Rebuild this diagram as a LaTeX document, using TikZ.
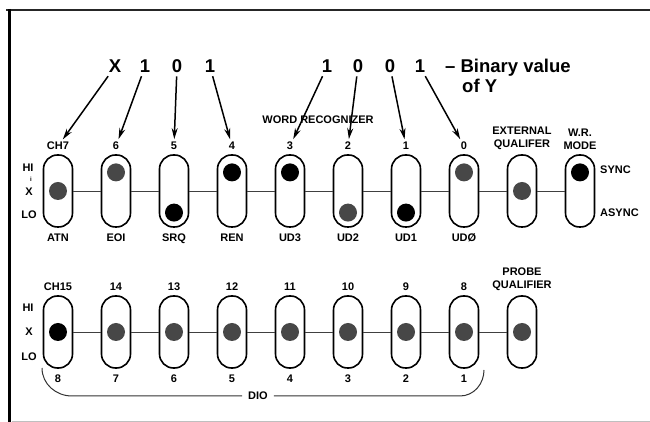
\documentclass[tikz,border=0pt]{standalone}
\usepackage{fontspec}
\setmainfont{Liberation Sans}
\usetikzlibrary{positioning, arrows.meta}
\tikzset{
  switchBox/.style={rectangle, rounded corners=14pt, minimum width=29pt, minimum height=72pt, draw=black, line width=1.6pt, inner sep=0pt, on grid},
  dotBlack/.style={circle, fill=black, minimum size=18pt, inner sep=0pt},
  dotGray/.style={circle, fill=black!72, minimum size=18pt, inner sep=0pt},
  swLabel/.style={font=\bfseries\fontsize{11}{13}\selectfont, inner sep=1pt, align=center},
  bitText/.style={font=\bfseries\fontsize{18.5}{20}\selectfont, inner sep=3pt, anchor=base},
  linkLine/.style={line width=0.9pt, black!75},
  bitArr/.style={line width=1.5pt, -{Stealth[length=11pt,width=6pt]}, shorten >=2pt},
  braceLine/.style={line width=1pt, black!80},
}
\begin{document}
\begin{tikzpicture}[x=1pt, y=1pt, node distance=58pt]
\useasboundingbox (0,0) rectangle (650,422);
% frame of the panel
\draw [line width=2pt, black!85] (6,412) -- (650,412);
\draw [line width=3pt] (9,413) -- (9,0);
\draw [line width=0.8pt, black!25] (12,1) -- (650,1);

% upper row of switches
\node (sw1) [switchBox] at (58,231) {};
\node (sw2) [switchBox, right=of sw1] {};
\node (sw3) [switchBox, right=of sw2] {};
\node (sw4) [switchBox, right=of sw3] {};
\node (sw5) [switchBox, right=of sw4] {};
\node (sw6) [switchBox, right=of sw5] {};
\node (sw7) [switchBox, right=of sw6] {};
\node (sw8) [switchBox, right=of sw7] {};
\node (sw9) [switchBox, right=of sw8] {};
\node (sw10) [switchBox, right=of sw9] {};
\draw [linkLine] (sw1) -- (sw2) -- (sw3) -- (sw4) -- (sw5) -- (sw6) -- (sw7) -- (sw8) -- (sw9) -- (sw10);

% knob positions
\node (d1) [dotGray] at (sw1) {};
\node (d2) [dotGray, below=9pt of sw2.north] {};
\node (d3) [dotBlack, above=6pt of sw3.south] {};
\node (d4) [dotBlack, below=9pt of sw4.north] {};
\node (d5) [dotBlack, below=9pt of sw5.north] {};
\node (d6) [dotGray, above=6pt of sw6.south] {};
\node (d7) [dotBlack, above=6pt of sw7.south] {};
\node (d8) [dotGray, below=9pt of sw8.north] {};
\node (d9) [dotGray] at (sw9) {};
\node (d10) [dotBlack, below=9pt of sw10.north] {};

\node (t1) [swLabel, above=3pt of sw1] {CH7};
\node (t2) [swLabel, above=3pt of sw2] {6};
\node (t3) [swLabel, above=3pt of sw3] {5};
\node (t4) [swLabel, above=3pt of sw4] {4};
\node (t5) [swLabel, above=3pt of sw5] {3};
\node (t6) [swLabel, above=3pt of sw6] {2};
\node (t7) [swLabel, above=3pt of sw7] {1};
\node (t8) [swLabel, above=3pt of sw8] {0};
\node (t9) [swLabel, above=3pt of sw9] {EXTERNAL\\QUALIFER};
\node (t10) [swLabel, above=3pt of sw10] {W.R.\\MODE};
\node (u1) [swLabel, below=5pt of sw1] {ATN};
\node (u2) [swLabel, below=5pt of sw2] {EOI};
\node (u3) [swLabel, below=5pt of sw3] {SRQ};
\node (u4) [swLabel, below=5pt of sw4] {REN};
\node (u5) [swLabel, below=5pt of sw5] {UD3};
\node (u6) [swLabel, below=5pt of sw6] {UD2};
\node (u7) [swLabel, below=5pt of sw7] {UD1};
\node (u8) [swLabel, below=5pt of sw8] {UDØ};
\node (wrec) [swLabel] at (318,302) {WORD RECOGNIZER};
\node (sync) [swLabel, anchor=west] at (599,252) {SYNC};
\node (async) [swLabel, anchor=west] at (599,209) {ASYNC};
\node (hiA) [swLabel] at (28,254) {HI};
\node (tickA) [swLabel, font=\bfseries\fontsize{6}{7}\selectfont] at (31,243) {i};
\node (xA) [swLabel] at (29,230) {X};
\node (loA) [swLabel] at (29,207) {LO};

% binary value of Y
\node (bX) [bitText] at (115,349) {X};
\node (b6) [bitText] at (145,349) {1};
\node (b5) [bitText] at (177,349) {0};
\node (b4) [bitText] at (210,349) {1};
\node (b3) [bitText] at (327,349) {1};
\node (b2) [bitText] at (358,349) {0};
\node (b1) [bitText] at (390,349) {0};
\node (b0) [bitText] at (420,349) {1};
\node (binVal) [bitText, anchor=base west] at (442,349) {– Binary value};
\node (ofY) [bitText, anchor=base west] at (459,329) {of Y};
\draw [bitArr] (bX) -- (t1);
\draw [bitArr] (b6) -- (t2);
\draw [bitArr] (b5) -- (t3);
\draw [bitArr] (b4) -- (t4);
\draw [bitArr] (b3) -- (t5);
\draw [bitArr] (b2) -- (t6);
\draw [bitArr] (b1) -- (t7);
\draw [bitArr] (b0) -- (t8);

% lower row of switches
\node (pr1) [switchBox] at (58,90) {};
\node (pr2) [switchBox, right=of pr1] {};
\node (pr3) [switchBox, right=of pr2] {};
\node (pr4) [switchBox, right=of pr3] {};
\node (pr5) [switchBox, right=of pr4] {};
\node (pr6) [switchBox, right=of pr5] {};
\node (pr7) [switchBox, right=of pr6] {};
\node (pr8) [switchBox, right=of pr7] {};
\node (pr9) [switchBox, right=of pr8] {};
\draw [linkLine] (pr1) -- (pr2) -- (pr3) -- (pr4) -- (pr5) -- (pr6) -- (pr7) -- (pr8) -- (pr9);
\node (pd1) [dotBlack] at (pr1) {};
\node (pd2) [dotGray] at (pr2) {};
\node (pd3) [dotGray] at (pr3) {};
\node (pd4) [dotGray] at (pr4) {};
\node (pd5) [dotGray] at (pr5) {};
\node (pd6) [dotGray] at (pr6) {};
\node (pd7) [dotGray] at (pr7) {};
\node (pd8) [dotGray] at (pr8) {};
\node (pd9) [dotGray] at (pr9) {};

\node (p1) [swLabel, above=3pt of pr1] {CH15};
\node (p2) [swLabel, above=3pt of pr2] {14};
\node (p3) [swLabel, above=3pt of pr3] {13};
\node (p4) [swLabel, above=3pt of pr4] {12};
\node (p5) [swLabel, above=3pt of pr5] {11};
\node (p6) [swLabel, above=3pt of pr6] {10};
\node (p7) [swLabel, above=3pt of pr7] {9};
\node (p8) [swLabel, above=3pt of pr8] {8};
\node (p9) [swLabel, above=3pt of pr9] {PROBE\\QUALIFIER};
\node (q1) [swLabel, below=5pt of pr1] {8};
\node (q2) [swLabel, below=5pt of pr2] {7};
\node (q3) [swLabel, below=5pt of pr3] {6};
\node (q4) [swLabel, below=5pt of pr4] {5};
\node (q5) [swLabel, below=5pt of pr5] {4};
\node (q6) [swLabel, below=5pt of pr6] {3};
\node (q7) [swLabel, below=5pt of pr7] {2};
\node (q8) [swLabel, below=5pt of pr8] {1};
\node (hiB) [swLabel] at (28,114) {HI};
\node (xB) [swLabel] at (29,90) {X};
\node (loB) [swLabel] at (29,65) {LO};

% DIO bracket
\node (dio) [swLabel, inner sep=6pt] at (258,26) {DIO};
\coordinate (dioL) at (42,54);
\coordinate (dioR) at (484,52);
\draw [braceLine] (dioL) to[out=-90, in=180] (72,26) -- (dio.west);
\draw [braceLine] (dio.east) -- (460,26) to[out=0, in=-90] (dioR);
\end{tikzpicture}
\end{document}
